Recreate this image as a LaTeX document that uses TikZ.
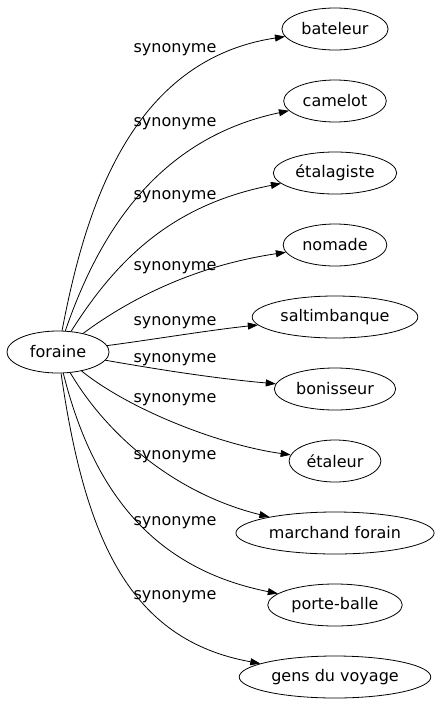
\documentclass[tikz,border=0pt]{standalone}
\usepackage{fontspec}
\setmainfont{DejaVu Sans}
\usetikzlibrary{arrows.meta,shapes.geometric}
\begin{document}
\begin{tikzpicture}[x=1pt,y=-1pt,
  every node/.style={font=\fontsize{16}{18}\selectfont},
  word/.style={ellipse,draw,line width=0.8pt,inner xsep=4pt,inner ysep=0pt,minimum height=42pt},
  rel/.style={line width=0.8pt,-{Triangle[length=10pt,width=7pt]}},
  lab/.style={inner sep=0pt}]
\useasboundingbox (0,0) rectangle (437,707);
\node[word,inner xsep=8pt] (f) at (58,352) {foraine};
\node[word] (t1) at (335,29) {bateleur};
\node[word] (t2) at (335,101) {camelot};
\node[word] (t3) at (335,173) {étalagiste};
\node[word] (t4) at (335,245) {nomade};
\node[word] (t5) at (335,317) {saltimbanque};
\node[word] (t6) at (335,389) {bonisseur};
\node[word] (t7) at (335,461) {étaleur};
\node[word] (t8) at (335,533) {marchand forain};
\node[word] (t9) at (335,605) {porte-balle};
\node[word] (t10) at (335,677) {gens du voyage};
\draw[rel] (f) .. controls (85,210) and (130,60) .. (t1);
\draw[rel] (f) .. controls (95,245) and (150,140) .. (t2);
\draw[rel] (f) .. controls (115,262) and (170,205) .. (t3);
\draw[rel] (f) .. controls (135,295) and (200,265) .. (t4);
\draw[rel] (f) .. controls (150,340) and (210,330) .. (t5);
\draw[rel] (f) .. controls (150,368) and (210,378) .. (t6);
\draw[rel] (f) .. controls (130,410) and (220,445) .. (t7);
\draw[rel] (f) .. controls (110,440) and (180,495) .. (t8);
\draw[rel] (f) .. controls (95,500) and (160,570) .. (t9);
\draw[rel] (f) .. controls (85,540) and (130,640) .. (t10);
\node[lab] (l1) at (175,50) {synonyme};
\node[lab] (l2) at (175,124) {synonyme};
\node[lab] (l3) at (175,197) {synonyme};
\node[lab] (l4) at (175,268) {synonyme};
\node[lab] (l5) at (175,323) {synonyme};
\node[lab] (l6) at (175,360) {synonyme};
\node[lab] (l7) at (175,400) {synonyme};
\node[lab] (l8) at (175,457) {synonyme};
\node[lab] (l9) at (175,523) {synonyme};
\node[lab] (l10) at (175,597) {synonyme};
\end{tikzpicture}
\end{document}
